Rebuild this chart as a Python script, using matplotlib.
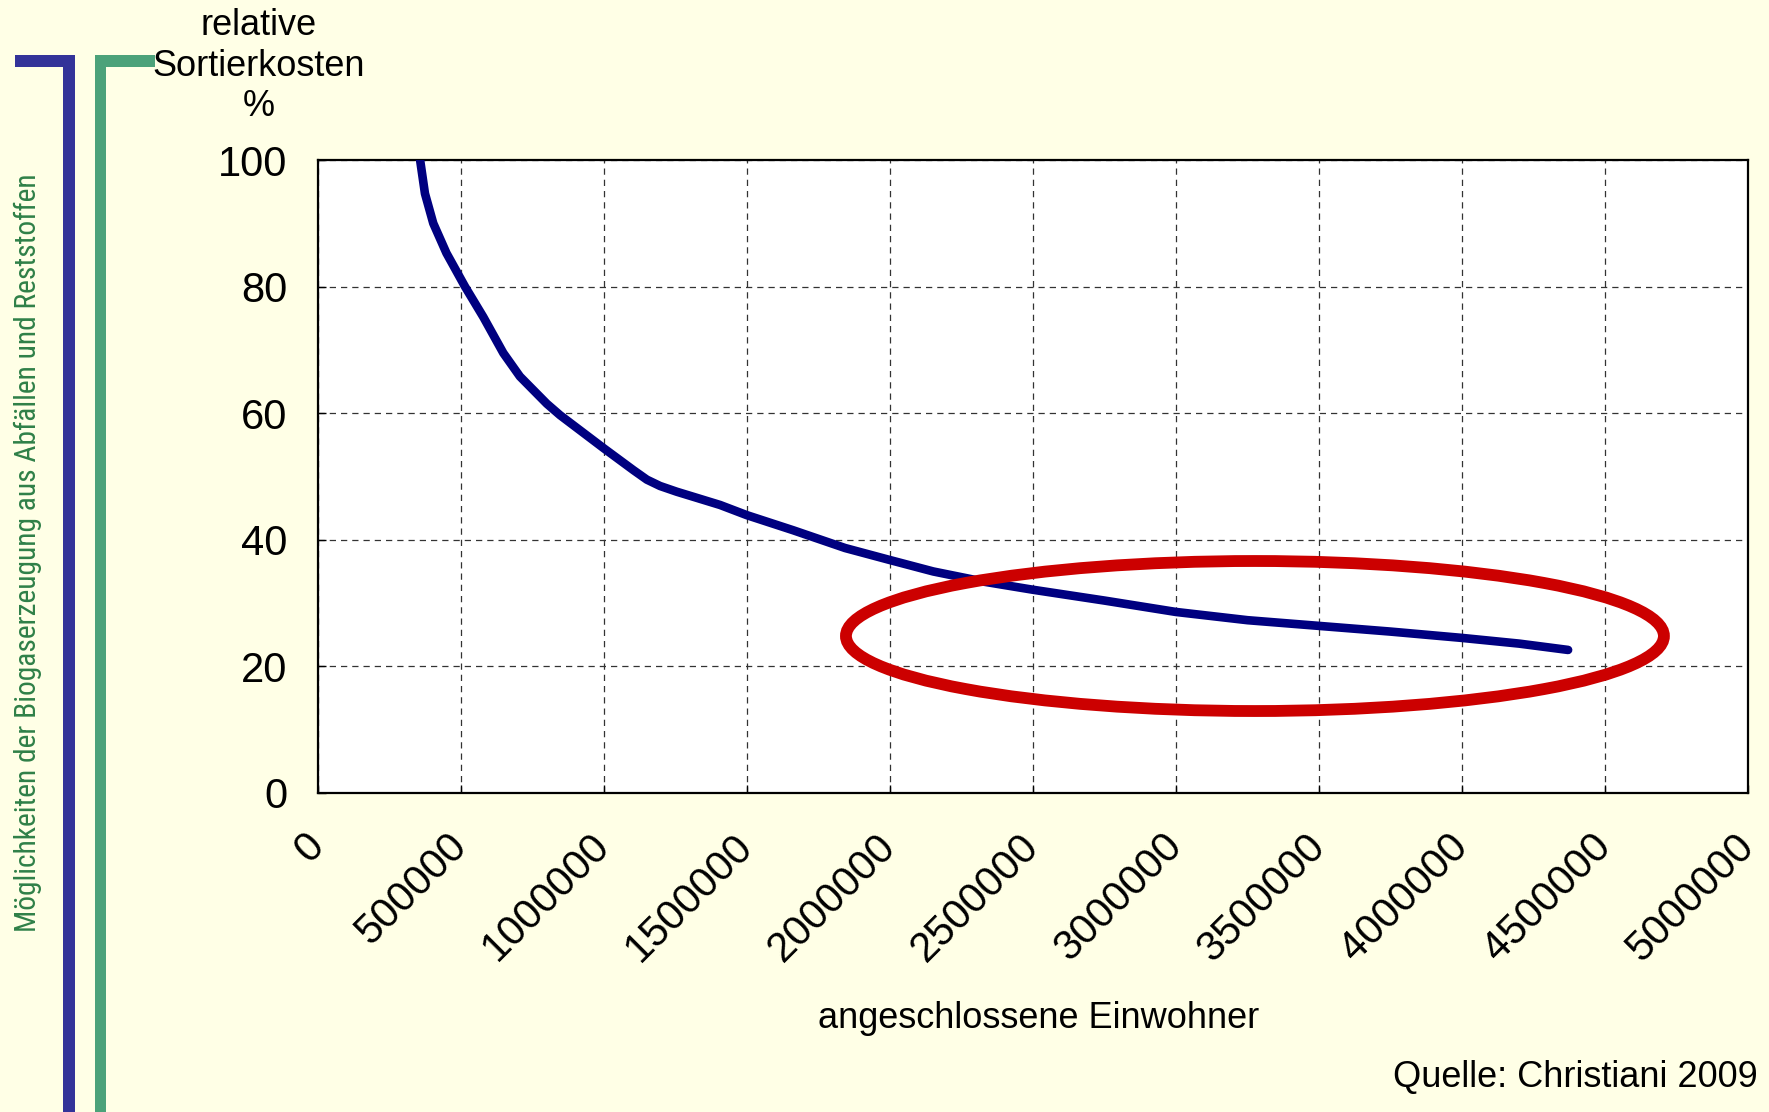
import matplotlib
matplotlib.use("Agg")
import matplotlib.pyplot as plt
from matplotlib.patches import Ellipse, Rectangle
from matplotlib import font_manager as fm

# ---- data ----
einwohner = [357000, 374000, 403000, 449000, 514000, 578000, 648000, 706000, 800000,
             846000, 998000, 1103000, 1150000, 1196000, 1254000, 1312000, 1406000,
             1499000, 1662000, 1843000, 2000000, 2151000, 2326000, 2501000, 2750000,
             3000000, 3250000, 3500000, 3750000, 4000000, 4200000, 4371000]
kosten = [100, 94.7, 90.0, 85.3, 80.0, 75.2, 69.5, 65.8, 61.5,
          59.7, 54.5, 51.0, 49.5, 48.5, 47.6, 46.8, 45.5,
          43.9, 41.5, 38.7, 36.8, 35.0, 33.4, 32.1, 30.4,
          28.6, 27.3, 26.4, 25.5, 24.5, 23.6, 22.6]
x_ticks = [0, 500000, 1000000, 1500000, 2000000, 2500000, 3000000, 3500000,
           4000000, 4500000, 5000000]
y_ticks = [0, 20, 40, 60, 80, 100]
x_label = "angeschlossene Einwohner"
y_label = "relative\nSortierkosten\n%"
side_title = "Möglichkeiten der Biogaserzeugung aus Abfällen und Reststoffen"
source = "Quelle: Christiani 2009"
highlight_center = (3276000, 24.8)
highlight_size = (2860000, 23.7)

names = {f.name for f in fm.fontManager.ttflist}
base = "Liberation Sans" if "Liberation Sans" in names else "DejaVu Sans"
plt.rcParams['font.family'] = [base, 'DejaVu Sans']

# look for a condensed / narrow sans font for the side title
narrow_prop = None
cands = []
for f in fm.fontManager.ttflist:
    n = f.name.lower()
    fn = f.fname.lower()
    if f.style != "normal" or "mono" in n or "serif" in n or "bold" in fn or "oblique" in fn or "italic" in fn:
        continue
    if "narrow" in n or "condensed" in n or "narrow" in fn or "condensed" in fn or \
            f.stretch in ("condensed", "semi-condensed", "extra-condensed"):
        cands.append(f)
cands.sort(key=lambda f: (0 if "liberation" in f.name.lower() else
                          1 if "roboto" in f.name.lower() else 2))
if cands:
    narrow_prop = fm.FontProperties(fname=cands[0].fname)

W, H = 1769, 1112
BG = "#FFFFE6"
fig = plt.figure(figsize=(W / 100, H / 100), dpi=100, facecolor=BG)

def px(x0, y0, w, h):
    return [x0 / W, 1 - (y0 + h) / H, w / W, h / H]

ax = fig.add_axes(px(318, 160, 1430, 633))
ax.set_facecolor("white")
ax.plot(einwohner, kosten, color="#000080", lw=6.2, solid_capstyle="round",
        solid_joinstyle="round", zorder=3)
ax.add_patch(Ellipse(highlight_center, highlight_size[0], highlight_size[1],
                     fill=False, edgecolor="#CC0000", lw=8.5, zorder=4, clip_on=False))
ax.set_xlim(0, 5000000)
ax.set_ylim(0, 100)
ax.set_xticks(x_ticks)
ax.set_xticklabels([str(v) for v in x_ticks], rotation=45, ha="right",
                   va="center", rotation_mode="anchor")
ax.set_yticks(y_ticks)
ax.set_yticklabels([str(v) for v in y_ticks])
ax.tick_params(axis="x", direction="in", length=6, width=1, labelsize=30, pad=34)
ax.tick_params(axis="y", direction="in", length=6, width=1, labelsize=30, pad=22)
ax.grid(True, color="#333333", linestyle=(0, (5, 4)), linewidth=0.9)
ax.set_axisbelow(True)
for s in ax.spines.values():
    s.set_linewidth(1.6)
    s.set_color("black")

fig.text(259 / W, 1 - 66 / H, y_label, ha="center", va="center", fontsize=26,
         linespacing=1.2)
fig.text(1039 / W, 1 - 1019 / H, x_label, ha="center", va="center", fontsize=26)
fig.text(1758 / W, 1 - 1077 / H, source, ha="right", va="center", fontsize=26)

# decorative brackets
blue, green = "#333399", "#4CA27A"
for (x0, y0, w, h, c) in [(15, 55, 60, 12, blue), (63, 55, 12, H - 55, blue),
                          (95, 55, 60, 12, green), (95, 55, 11, H - 55, green)]:
    fig.add_artist(Rectangle((x0 / W, 1 - (y0 + h) / H), w / W, h / H,
                             transform=fig.transFigure, color=c, lw=0))

if narrow_prop is not None:
    t = fig.text(28 / W, 1 - 553 / H, side_title, rotation=90, ha="center", va="center",
                 fontproperties=narrow_prop, color="#2F8048")
    t.set_fontsize(18)
else:
    t = fig.text(28 / W, 1 - 553 / H, side_title, rotation=90, ha="center", va="center",
                 fontsize=18, color="#2F8048")
fig.canvas.draw()
ext = t.get_window_extent()
t.set_fontsize(18 * 761 / ext.height)

fig.savefig("out.png", dpi=100, facecolor=BG)
